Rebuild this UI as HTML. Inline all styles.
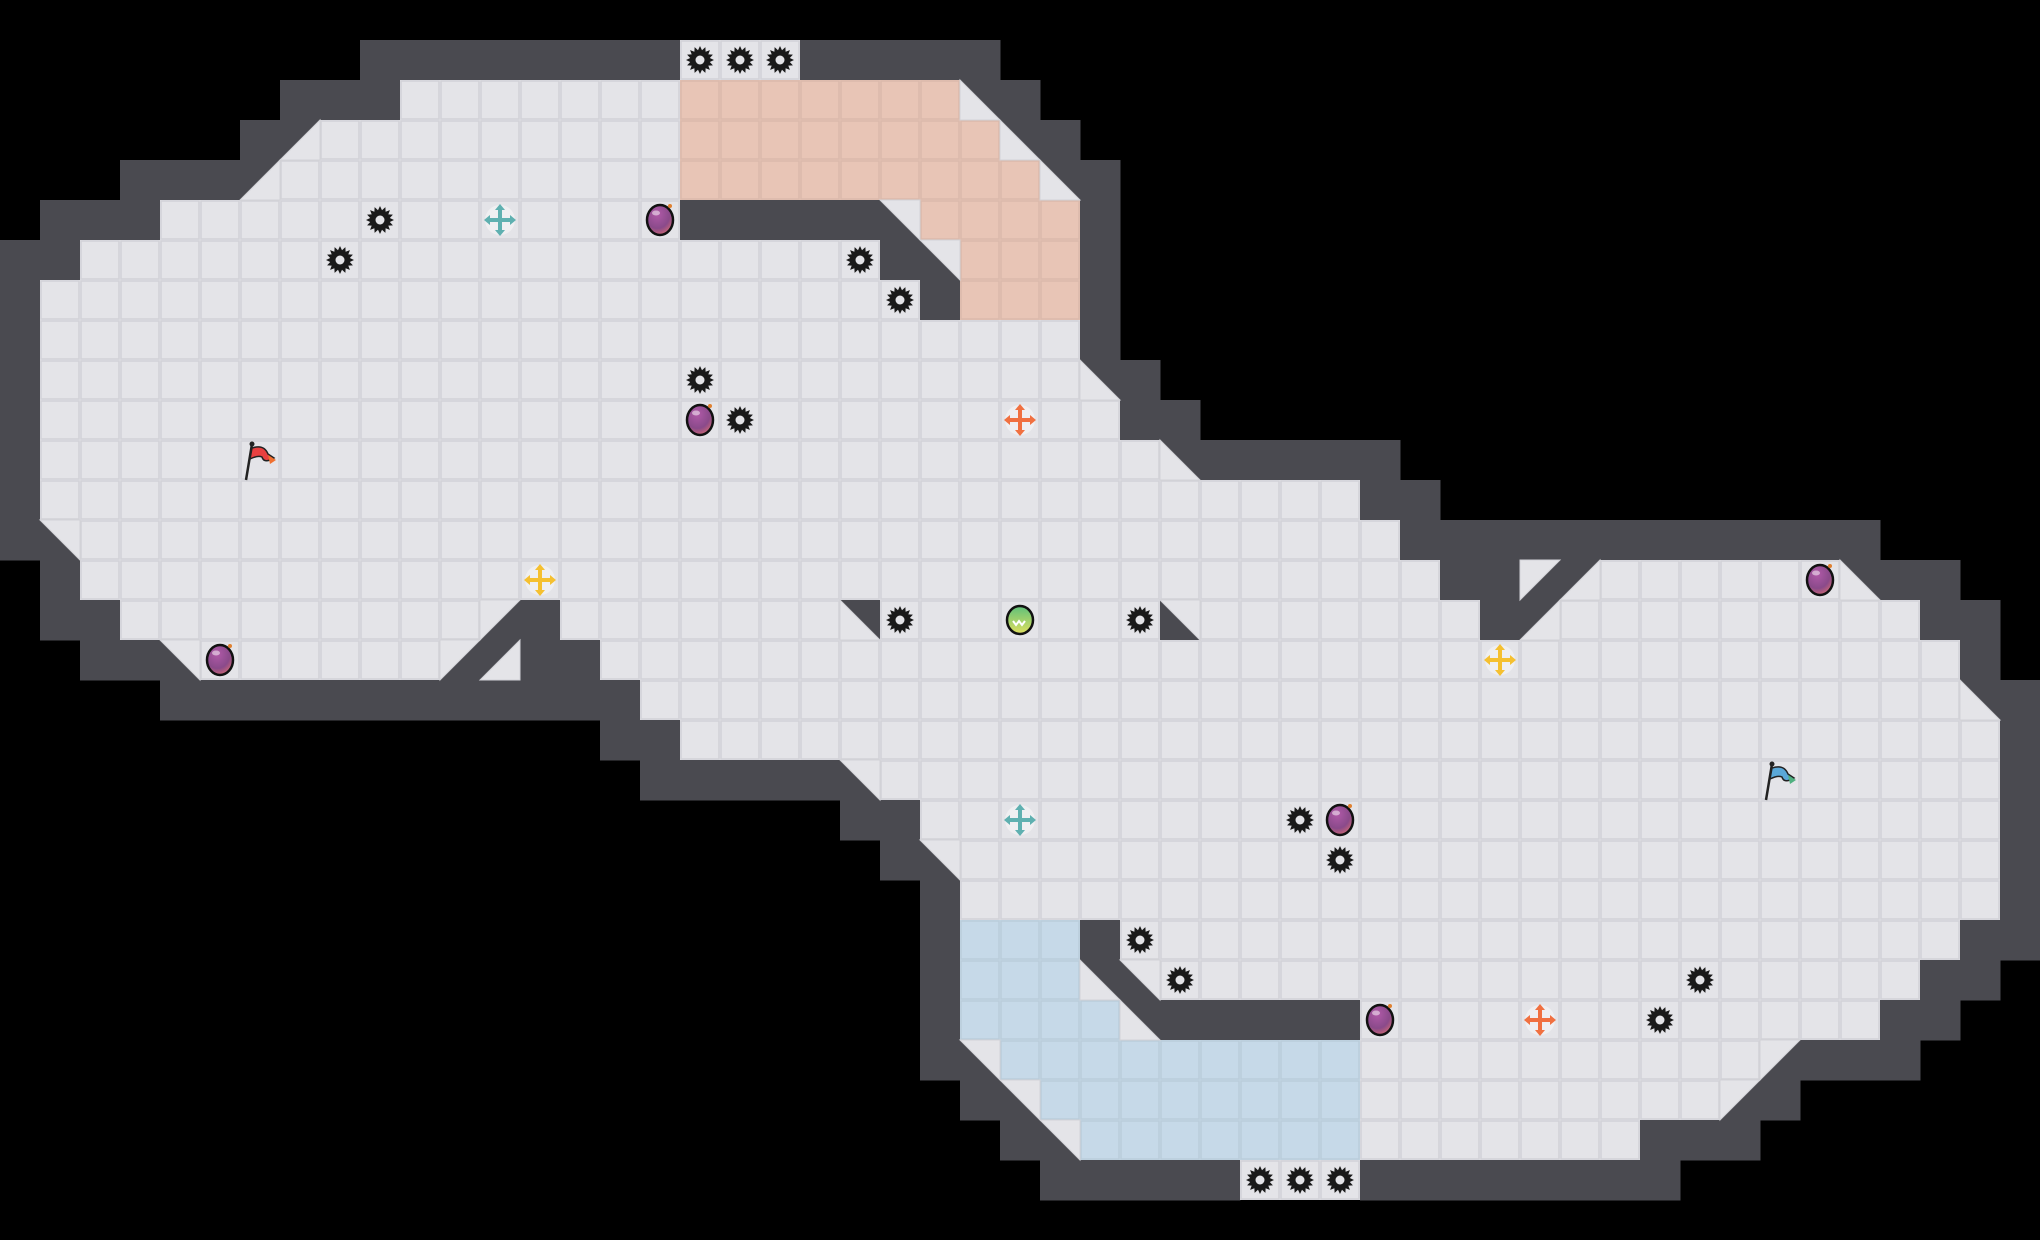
<!DOCTYPE html>
<html><head><meta charset="utf-8">
<style>
html,body{margin:0;padding:0;background:#000;width:2040px;height:1240px;overflow:hidden}
svg{display:block}
</style></head>
<body>
<svg id="s" width="2040" height="1240" viewBox="0 0 2040 1240" xmlns="http://www.w3.org/2000/svg">
<defs>
<radialGradient id="bomb" cx="0.4" cy="0.3" r="0.8"><stop offset="0" stop-color="#b05aa8"/><stop offset="0.6" stop-color="#8a4a8a"/><stop offset="1" stop-color="#e07070"/></radialGradient>
<linearGradient id="ball" x1="0" y1="0" x2="0" y2="1"><stop offset="0" stop-color="#5ec07a"/><stop offset="1" stop-color="#e0e060"/></linearGradient>
</defs>
<rect width="2040" height="1240" fill="#000"/>
<g id="walls"></g><g id="floor"></g><g id="items"></g>
</svg>
<script>
var C=40,NS="http://www.w3.org/2000/svg";
var full={},half={},color={};
function F(r,a,b,col){for(var c=a;c<=b;c++){full[r+","+c]=1;if(col)color[r+","+c]=col;}}
function H(r,c,t){half[r+","+c]=t;}
var P="#e8c5b6",B="#c6d9e8";
F(1,17,19);
F(2,10,23);H(2,24,'ll');
F(3,8,24);H(3,7,'lr');H(3,25,'ll');
F(4,7,25);H(4,6,'lr');H(4,26,'ll');
F(5,4,16);F(5,23,26);H(5,22,'ur');
F(6,2,21);F(6,24,26);H(6,23,'ur');
F(7,1,22);F(7,24,26);
F(8,1,26);
F(9,1,26);H(9,27,'ll');
F(10,1,27);
F(11,1,28);H(11,29,'ll');
F(12,1,33);
F(13,2,34);H(13,1,'ur');
F(14,2,35);F(14,40,45);H(14,38,'ul');H(14,39,'lr');H(14,46,'ll');
F(15,3,11);F(15,14,20);F(15,22,28);F(15,30,36);F(15,39,47);H(15,12,'ul');H(15,21,'ll');H(15,29,'ur');H(15,38,'lr');
F(16,5,10);F(16,15,48);H(16,4,'ur');H(16,11,'ul');H(16,12,'lr');
F(17,16,48);H(17,49,'ll');
F(18,17,49);
F(19,22,49);H(19,21,'ur');
F(20,23,49);
F(21,24,49);H(21,23,'ur');
F(22,24,49);
F(23,24,26,B);F(23,28,48);
F(24,24,26,B);F(24,29,47);H(24,27,'ll');H(24,28,'ur');
F(25,24,27,B);F(25,34,46);H(25,28,'ll');
F(26,25,33,B);F(26,34,43);H(26,24,'ur');H(26,44,'ul');
F(27,26,33,B);F(27,34,42);H(27,25,'ur');H(27,43,'ul');
F(28,27,33,B);F(28,34,40);H(28,26,'ur');
F(29,31,33);
F(2,17,23,P);F(3,17,24,P);F(4,17,25,P);F(5,23,26,P);F(6,24,26,P);F(7,24,26,P);
function el(n,a,p){var e=document.createElementNS(NS,n);for(var k in a)e.setAttribute(k,a[k]);(p||document.getElementById("items")).appendChild(e);return e;}
var W=document.getElementById("walls"),Fl=document.getElementById("floor");
var wall={};
for(var k in full)wallmark(k,true);for(var k in half)wallmark(k,false);
function wallmark(k,diag){var p=k.split(",");var r=+p[0],c=+p[1];for(var dr=-1;dr<=1;dr++)for(var dc=-1;dc<=1;dc++){if(!diag&&dr!=0&&dc!=0)continue;var rr=r+dr;if(rr<1||rr>29)continue;var kk=rr+","+(c+dc);if(!full[kk])wall[kk]=1;}}
["13,37","17,13","17,14","17,15"].forEach(function(k){wall[k]=1;});
for(var k in wall){var p=k.split(",");el("rect",{x:p[1]*C,y:p[0]*C,width:C+0.5,height:C+0.5,fill:"#4a4a50"},W);}
for(var k in full){var p=k.split(",");var x=p[1]*C,y=p[0]*C;var col=color[k]||"#e4e4e8";
el("rect",{x:x,y:y,width:C,height:C,fill:col},Fl);
el("rect",{x:x+1,y:y+1,width:C-2,height:C-2,fill:"none",stroke:color[k]?"rgba(0,0,0,0.06)":"#d2d2d7","stroke-width":1.5},Fl);}
for(var k in half){var p=k.split(",");var x=p[1]*C,y=p[0]*C,t=half[k];var pts;
var TL=[x,y],TR=[x+C,y],BL=[x,y+C],BR=[x+C,y+C];
if(t=='ll')pts=[TL,BL,BR];if(t=='lr')pts=[TR,BR,BL];if(t=='ul')pts=[TL,TR,BL];if(t=='ur')pts=[TL,TR,BR];
el("polygon",{points:pts.map(function(q){return q.join(",")}).join(" "),fill:"#e4e4e8",stroke:"#d2d2d7","stroke-width":1},Fl);}
function ctr(c,r){return [c*C+20,r*C+20];}
function gear(c,r){var q=ctr(c,r),pts=[];for(var i=0;i<32;i++){var a=i*Math.PI/16,rr=i%2?10:14;pts.push((q[0]+rr*Math.cos(a)).toFixed(1)+","+(q[1]+rr*Math.sin(a)).toFixed(1));}
el("polygon",{points:pts.join(" "),fill:"#1a1a1a"});el("circle",{cx:q[0],cy:q[1],r:4.5,fill:"#e4e4e8"});}
[[17,1],[18,1],[19,1],[31,29],[32,29],[33,29],[9,5],[8,6],[21,6],[22,7],[17,9],[18,10],[22,15],[28,15],[32,20],[33,21],[28,23],[29,24],[42,24],[41,25]].forEach(function(g){gear(g[0],g[1]);});
function bomb(c,r){var q=ctr(c,r);el("ellipse",{cx:q[0],cy:q[1],rx:13,ry:15,fill:"url(#bomb)",stroke:"#111","stroke-width":2.5});
el("circle",{cx:q[0]+10,cy:q[1]-14,r:2,fill:"#e08030"});el("ellipse",{cx:q[0]-4,cy:q[1]-7,rx:4,ry:2.5,fill:"rgba(255,255,255,0.5)"});}
[[16,5],[17,10],[5,16],[45,14],[33,20],[34,25]].forEach(function(g){bomb(g[0],g[1]);});
function cross(c,r,col){var q=ctr(c,r),x=q[0],y=q[1];
el("circle",{cx:x,cy:y,r:15,fill:"rgba(255,255,255,0.4)"});
el("path",{d:"M"+(x-11)+" "+y+"H"+(x+11)+"M"+x+" "+(y-11)+"V"+(y+11),stroke:col,"stroke-width":4,fill:"none"});
el("path",{d:"M"+x+" "+(y-16)+"l-5 6h10zM"+x+" "+(y+16)+"l-5 -6h10zM"+(x-16)+" "+y+"l6 -5v10zM"+(x+16)+" "+y+"l-6 -5v10z",fill:col});}
cross(12,5,"#5fb0b0");cross(25,10,"#f07040");cross(13,14,"#f5c030");cross(37,16,"#f5c030");cross(25,20,"#5fb0b0");cross(38,25,"#f07040");
(function(){var q=ctr(25,15);el("ellipse",{cx:q[0],cy:q[1],rx:13,ry:14,fill:"url(#ball)",stroke:"#111","stroke-width":2.5});
el("path",{d:"M"+(q[0]-7)+" "+(q[1]+1)+"l3 4l3-4l3 4l3-4",stroke:"#fff","stroke-width":2,fill:"none"});})();
function flag(c,r,col,tail){var q=ctr(c,r),x=q[0]-16,y=q[1];
el("path",{d:"M"+(x+2)+" "+(y+20)+"L"+(x+8)+" "+(y-16),stroke:"#222","stroke-width":2.5,fill:"none"});
el("circle",{cx:x+8,cy:y-16,r:2.5,fill:"#222"});
el("path",{d:"M"+(x+8)+" "+(y-12)+"q12 -4 16 6l6 4q-10 6 -12 -1q-4 -2 -12 2z",fill:col,stroke:"#222","stroke-width":1.5});
el("path",{d:"M"+(x+24)+" "+(y-5)+"l8 5l-6 4z",fill:tail});}
flag(6,11,"#e84040","#f07030");flag(44,19,"#5aa8d8","#50b080");
</script>
</body></html>
